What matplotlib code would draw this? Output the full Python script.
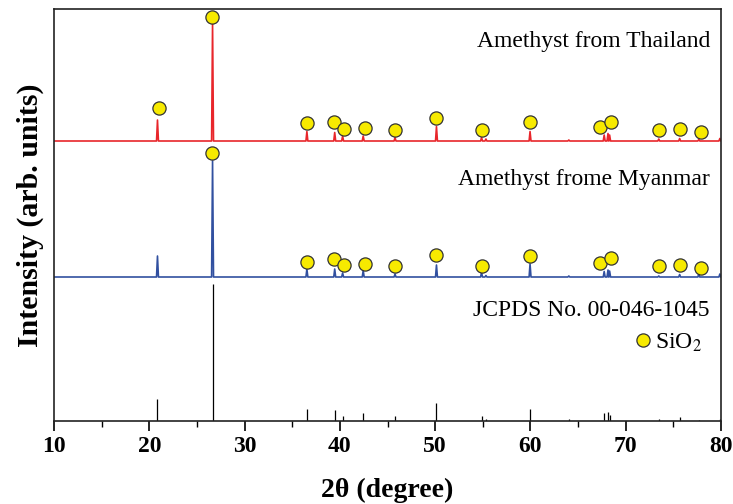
import numpy as np
import matplotlib
matplotlib.use('Agg')
import matplotlib.pyplot as plt
from matplotlib.lines import Line2D

# Quartz (SiO2) reflections, degrees 2-theta
peak_pos = [20.86, 26.64, 36.54, 39.46, 40.29, 42.45, 45.79, 50.14, 54.87, 55.33,
            59.96, 64.03, 67.74, 68.14, 68.31, 73.47, 75.66, 77.67, 79.88]

# JCPDS 00-046-1045 relative intensities (%)
jcpds_int = [16, 100, 8.9, 7.9, 3.8, 5.6, 3.6, 13, 3.6, 1.8,
             8.9, 1.8, 5.6, 6.9, 4.6, 1.8, 2.8, 0.8, 1.8]

# measured peak heights above baseline (arb. units)
thai_int = [21, 118, 9.5, 8.5, 5, 5, 3.5, 14.5, 3.5, 2,
            9.5, 1, 6, 7.5, 6, 2, 2.5, 1.5, 2.5]
myan_int = [21, 116, 8, 8, 4, 6.5, 3, 12, 4.5, 1.5,
            13, 1, 5.5, 7, 6, 1, 2.5, 3, 3]

thai_base = 280
myan_base = 144
stick_scale = 1.37

# SiO2 marker positions (2-theta, intensity incl. offset)
thai_mark_x = [21.04, 26.6, 36.5, 39.35, 40.45, 42.6, 45.75, 50.13, 54.96, 60.0,
               67.3, 68.5, 73.5, 75.65, 77.85]
thai_mark_y = [312.7, 404, 297.7, 298.7, 292, 293.3, 291.3, 303, 291.3, 298.7,
               294.3, 299.3, 291.3, 292, 289.3]
myan_mark_x = [26.6, 36.5, 39.35, 40.45, 42.6, 45.75, 50.13, 54.96, 60.0,
               67.3, 68.5, 73.5, 75.65, 77.85]
myan_mark_y = [268.3, 158.7, 162, 156, 157, 155.3, 166.3, 155.3, 165,
               157.7, 163, 155, 155.7, 152.7]


def pattern(pos, hts, base, w=0.1):
    # simple stick-to-profile: each peak is a narrow triangle on the baseline
    xs, ys = [10], [base]
    for p, h in zip(pos, hts):
        xs += [p - w, p, p + w]
        ys += [base, base + h, base]
    xs.append(80)
    ys.append(base)
    return xs, ys


plt.rcParams['font.family'] = ['Liberation Serif', 'DejaVu Serif']
plt.rcParams['mathtext.fontset'] = 'stix'

fig = plt.figure(figsize=(7.33, 5.04), dpi=100)
ax = fig.add_axes([54 / 733, 83 / 504, 667 / 733, 412 / 504])

red, blue = '#e8262b', '#3150a0'
mk = dict(ls='none', marker='o', ms=9.5, mfc='#f7ea00', mec='#333333', mew=0.9)

x, y = pattern(peak_pos, thai_int, thai_base)
ax.plot(x, y, color=red, lw=1.2)
x, y = pattern(peak_pos, myan_int, myan_base)
ax.plot(x, y, color=blue, lw=1.2)
ax.vlines(peak_pos, 0, np.array(jcpds_int) * stick_scale, color='black', lw=0.9)

ax.plot(thai_mark_x, thai_mark_y, **mk)
ax.plot(myan_mark_x, myan_mark_y, **mk)

ax.text(0.9835, 0.92, 'Amethyst from Thailand', transform=ax.transAxes,
        ha='right', va='center', fontsize=17)
ax.text(0.9835, 0.585, 'Amethyst frome Myanmar', transform=ax.transAxes,
        ha='right', va='center', fontsize=17)
ax.text(0.9835, 0.2694, 'JCPDS No. 00-046-1045', transform=ax.transAxes,
        ha='right', va='center', fontsize=17)

h = Line2D([], [], **mk)
ax.legend([h], ['SiO$_2$'], loc='center left', bbox_to_anchor=(0.872, 0.19),
          frameon=False, fontsize=17, handlelength=0.6, handletextpad=0.2,
          borderpad=0, borderaxespad=0)

ax.set_xlim(10, 80)
ax.set_ylim(0, 412)
ax.set_xticks(np.arange(10, 81, 10))
ax.set_xticks(np.arange(15, 80, 10), minor=True)
ax.set_yticks([])
ax.tick_params(axis='x', which='major', length=7, width=1.2, direction='out', labelsize=17, pad=4)
ax.tick_params(axis='x', which='minor', length=4, width=1.0, direction='out')
for lab in ax.get_xticklabels():
    lab.set_fontweight('bold')
for s in ax.spines.values():
    s.set_linewidth(1.2)
    s.set_color('#222222')

ax.set_xlabel('2θ (degree)', fontsize=20, fontweight='bold', labelpad=15)
ax.set_ylabel('Intensity (arb. units)', fontsize=21.5, fontweight='bold', labelpad=7)

fig.savefig('out.png', dpi=100)
